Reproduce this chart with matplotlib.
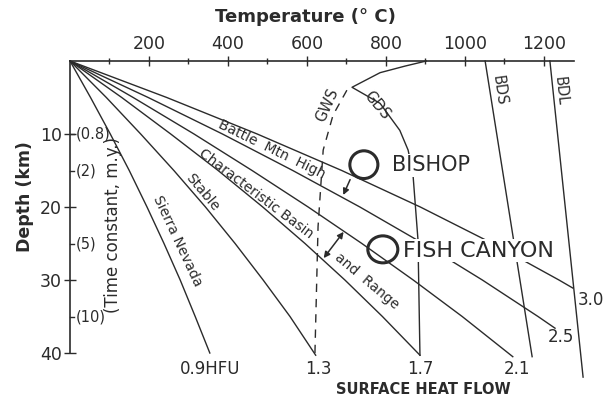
import matplotlib
matplotlib.use("Agg")
import matplotlib.pyplot as plt
from matplotlib.patches import Ellipse

plt.rcParams['font.family'] = ['DejaVu Sans']

# ---------------- data ----------------
# Geotherms labelled by surface heat flow (HFU): depth (km) / temperature (deg C)
hf_labels = ["0.9HFU", "1.3", "1.7", "2.1", "2.5", "3.0"]
depth_09 = [0, 5, 10, 15, 20, 25, 30, 35, 40]
temp_09 = [0, 52, 102, 150, 195, 238, 279, 317, 354]
depth_13 = [0, 5, 10, 15, 20, 25, 30, 35, 40.3]
temp_13 = [0, 92, 179, 263, 343, 418, 489, 557, 622]
depth_17 = [0, 5, 10, 15, 20, 25, 30, 35, 40.3]
temp_17 = [0, 131, 255, 375, 488, 595, 696, 791, 886]
depth_21 = [0, 5, 10, 15, 20, 25, 30, 35, 40.5]
temp_21 = [0, 160, 314, 461, 603, 739, 869, 993, 1121]
depth_25 = [0, 5, 10, 15, 20, 25, 30, 35, 36.6]
temp_25 = [0, 198, 386, 564, 734, 894, 1044, 1185, 1228]
depth_30 = [0, 5, 10, 15, 20, 25, 30, 31.1]
temp_30 = [0, 245, 474, 688, 887, 1070, 1238, 1273]

# Solidus / liquidus curves
gws_depth = [4.0, 7.4, 12.2, 22.7, 40.3]
gws_temp = [701, 666, 641, 628, 620]
gds_depth = [0, 0.7, 1.6, 3.6, 5.8, 9.5, 12.2, 15.3, 24.5, 40.3]
gds_temp = [902, 848, 785, 714, 785, 835, 856, 868, 881, 886]
bds_depth = [0, 40.5]
bds_temp = [1051, 1170]
bdl_depth = [0, 43.3]
bdl_temp = [1215, 1299]

# Axes ticks
temp_ticks = [200, 400, 600, 800, 1000, 1200]
temp_minor = [100, 300, 500, 700, 900, 1100]
depth_ticks = [10, 20, 30, 40]
tc_depths = [10, 15, 25, 35]
tc_labels = ["(0.8)", "(2)", "(5)", "(10)"]

# ---------------- figure ----------------
W, H = 616, 407
fig = plt.figure(figsize=(W / 100, H / 100), dpi=100)
ax = fig.add_axes([70 / W, 1 - 355 / H, 504 / W, 294 / H])
ax.set_xlim(0, 1276)
ax.set_ylim(40.27, 0)

ink = '#2b2b2b'
lw = 1.0

for d, t in [(depth_09, temp_09), (depth_13, temp_13), (depth_17, temp_17),
             (depth_21, temp_21), (depth_25, temp_25), (depth_30, temp_30)]:
    ax.plot(t, d, color=ink, lw=lw, clip_on=False, zorder=2)

ax.plot(gws_temp, gws_depth, color=ink, lw=lw, ls=(0, (6, 5)), clip_on=False, zorder=2)
ax.plot(gds_temp, gds_depth, color=ink, lw=lw, clip_on=False, zorder=2)
ax.plot(bds_temp, bds_depth, color=ink, lw=lw, clip_on=False, zorder=2)
ax.plot(bdl_temp, bdl_depth, color=ink, lw=lw, clip_on=False, zorder=2)

# spines / ticks
for s in ['right', 'bottom']:
    ax.spines[s].set_visible(False)
ax.spines['top'].set_linewidth(1.2)
ax.spines['left'].set_linewidth(1.2)
ax.spines['top'].set_color(ink)
ax.spines['left'].set_color(ink)
ax.spines['left'].set_bounds(0, 40)
ax.xaxis.tick_top()
ax.set_xticks(temp_ticks)
ax.set_xticks(temp_minor, minor=True)
ax.set_xticklabels([str(v) for v in temp_ticks])
ax.tick_params(axis='x', which='major', direction='inout', length=7, width=1,
               labelsize=12.5, pad=2, colors=ink)
ax.tick_params(axis='x', which='minor', direction='inout', length=5, width=1, colors=ink)
ax.set_yticks(depth_ticks)
ax.set_yticklabels([str(v) for v in depth_ticks])
ax.tick_params(axis='y', which='major', direction='inout', length=8, width=1,
               labelsize=12.5, pad=2, colors=ink)

# time constant ticks & labels
for dz, lab in zip(tc_depths, tc_labels):
    ax.plot([0, 10], [dz, dz], color=ink, lw=1, clip_on=False)
    ax.text(14, dz, lab, fontsize=10.5, color=ink, va='center', ha='left')

fig.text(113 / W, 1 - 225 / H, "(Time constant, m.y.)", rotation=90,
         fontsize=12, color=ink, ha='center', va='center')

fig.text(305 / W, 1 - 17 / H, "Temperature (° C)", fontsize=13, fontweight='bold',
         color=ink, ha='center', va='center')
fig.text(25 / W, 1 - 197 / H, "Depth (km)", rotation=90, fontsize=12.5,
         fontweight='bold', color=ink, ha='center', va='center')

# bottom heat-flow labels
ax.text(temp_09[-1], 42.2, hf_labels[0], fontsize=12, color=ink, ha='center', va='center')
ax.text(temp_13[-1] + 8, 42.2, hf_labels[1], fontsize=12, color=ink, ha='center', va='center')
ax.text(temp_17[-1], 42.2, hf_labels[2], fontsize=12, color=ink, ha='center', va='center')
ax.text(temp_21[-1] + 10, 42.2, hf_labels[3], fontsize=12, color=ink, ha='center', va='center')
ax.text(temp_25[-1] + 15, 37.8, hf_labels[4], fontsize=12, color=ink, ha='center', va='center')
ax.text(temp_30[-1] + 45, 32.7, hf_labels[5], fontsize=12, color=ink, ha='center', va='center')
fig.text(423 / W, 1 - 390 / H, "SURFACE HEAT FLOW", fontsize=10.5, fontweight='bold',
         color=ink, ha='center', va='center')

# curve labels
ax.text(272, 24.6, "Sierra Nevada", rotation=-65, fontsize=10, color=ink,
        ha='center', va='center', rotation_mode='anchor')
ax.text(335, 18.0, "Stable", rotation=-50, fontsize=10, color=ink,
        ha='center', va='center', rotation_mode='anchor')
ax.text(470, 18.2, "Characteristic Basin", rotation=-37, fontsize=10, color=ink,
        ha='center', va='center', rotation_mode='anchor')
ax.text(752, 30.2, "and  Range", rotation=-40, fontsize=10, color=ink,
        ha='center', va='center', rotation_mode='anchor')
ax.text(512, 12.1, "Battle  Mtn  High", rotation=-26, fontsize=10, color=ink,
        ha='center', va='center', rotation_mode='anchor')
ax.text(651, 6.0, "GWS", rotation=66, fontsize=10.5, color=ink,
        ha='center', va='center', rotation_mode='anchor')
ax.text(778, 6.1, "GDS", rotation=-50, fontsize=10.5, color=ink,
        ha='center', va='center', rotation_mode='anchor')
ax.text(1086, 4.1, "BDS", rotation=-82, fontsize=10.5, color=ink,
        ha='center', va='center', rotation_mode='anchor')
ax.text(1241, 4.1, "BDL", rotation=-84, fontsize=10.5, color=ink,
        ha='center', va='center', rotation_mode='anchor')

# magma bodies
ax.add_patch(Ellipse((744, 14.2), 71, 3.8, fill=False, ec=ink, lw=2.2, zorder=4, clip_on=False))
ax.add_patch(Ellipse((792, 25.8), 76, 3.7, fill=False, ec=ink, lw=2.2, zorder=4, clip_on=False))
ax.text(815, 14.3, "BISHOP", fontsize=15, color=ink, ha='left', va='center',
        bbox=dict(fc='white', ec='none', pad=1), zorder=5)
ax.text(842, 26.0, "FISH CANYON", fontsize=16, color=ink, ha='left', va='center',
        bbox=dict(fc='white', ec='none', pad=1), zorder=5)

ax.annotate("", xy=(689, 18.7), xytext=(712, 15.9),
            arrowprops=dict(arrowstyle='-|>', color=ink, lw=1.1, mutation_scale=9))
ax.annotate("", xy=(638, 27.3), xytext=(697, 23.1),
            arrowprops=dict(arrowstyle='<|-|>', color=ink, lw=1.1, mutation_scale=9))

fig.savefig("out.png", dpi=100, facecolor='white')
